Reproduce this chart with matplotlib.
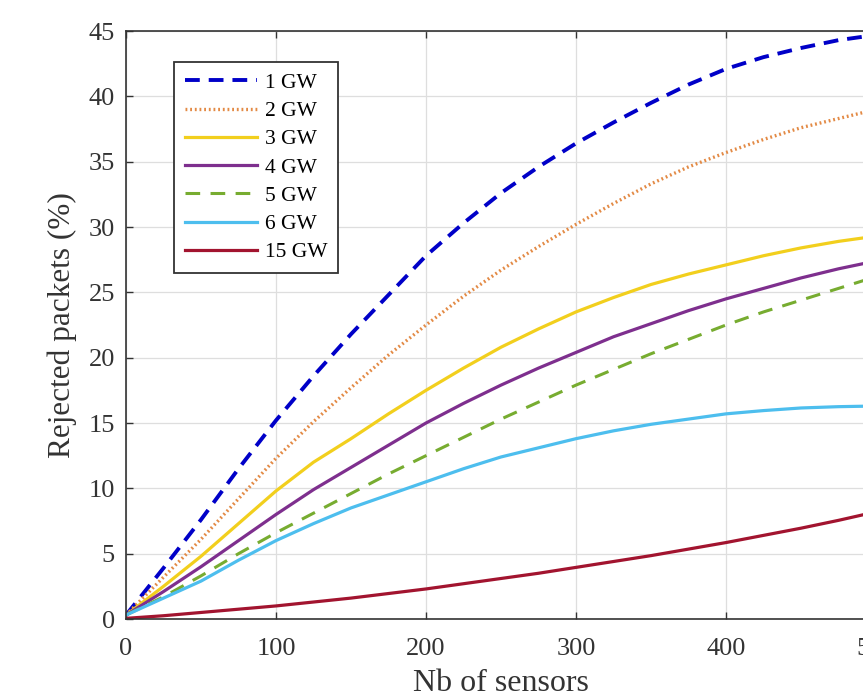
import numpy as np
import matplotlib
matplotlib.use('Agg')
import matplotlib.pyplot as plt

plt.rcParams['font.family'] = ['Liberation Serif', 'DejaVu Serif']

# number of sensors
nb = [0, 25, 50, 75, 100, 125, 150, 175, 200, 225, 250, 275, 300,
      325, 350, 375, 400, 425, 450, 475, 500]

# rejected packets (%) per gateway count
gw1 = [0.3, 3.9, 7.6, 11.5, 15.2, 18.6, 21.8, 24.8, 27.8, 30.3, 32.6, 34.6, 36.4,
       38.0, 39.5, 40.9, 42.1, 43.0, 43.7, 44.3, 44.7]
gw2 = [0.3, 3.2, 6.1, 9.2, 12.3, 15.1, 17.7, 20.2, 22.5, 24.7, 26.7, 28.5, 30.2,
       31.8, 33.3, 34.6, 35.7, 36.7, 37.6, 38.3, 39.0]
gw3 = [0.3, 2.5, 4.8, 7.3, 9.8, 12.0, 13.8, 15.7, 17.5, 19.2, 20.8, 22.2, 23.5,
       24.6, 25.6, 26.4, 27.1, 27.8, 28.4, 28.9, 29.3]
gw4 = [0.3, 2.1, 4.0, 6.0, 8.0, 9.9, 11.6, 13.3, 15.0, 16.5, 17.9, 19.2, 20.4,
       21.6, 22.6, 23.6, 24.5, 25.3, 26.1, 26.8, 27.4]
gw5 = [0.3, 1.7, 3.3, 5.0, 6.6, 8.1, 9.6, 11.1, 12.5, 13.9, 15.3, 16.6, 17.9,
       19.1, 20.3, 21.4, 22.5, 23.5, 24.4, 25.3, 26.2]
gw6 = [0.3, 1.6, 2.9, 4.5, 6.0, 7.3, 8.5, 9.5, 10.5, 11.5, 12.4, 13.1, 13.8,
       14.4, 14.9, 15.3, 15.7, 15.95, 16.15, 16.25, 16.3]
gw15 = [0.05, 0.25, 0.5, 0.75, 1.0, 1.3, 1.6, 1.95, 2.3, 2.7, 3.1, 3.5, 3.95,
        4.4, 4.85, 5.35, 5.85, 6.4, 6.95, 7.55, 8.2]

labels = ['1 GW', '2 GW', '3 GW', '4 GW', '5 GW', '6 GW', '15 GW']

fig = plt.figure(figsize=(8.63, 6.92), dpi=100)
# the original picture is cropped on the right, so the axes run past the edge
ax = fig.add_axes([126/863, 73/692, 750/863, 588/692])

ax.plot(nb, gw1, color='#0000C8', ls=(0, (3.8, 2.3)), lw=2.8, label=labels[0])
ax.plot(nb, gw2, color='#E38A45', ls=(0, (0.55, 0.85)), lw=2.4, label=labels[1])
ax.plot(nb, gw3, color='#F2CF1D', ls='-', lw=2.3, label=labels[2])
ax.plot(nb, gw4, color='#7E2F8E', ls='-', lw=2.3, label=labels[3])
ax.plot(nb, gw5, color='#77AC30', ls=(0, (4.8, 3.4)), lw=2.2, label=labels[4])
ax.plot(nb, gw6, color='#4DBEEE', ls='-', lw=2.3, label=labels[5])
ax.plot(nb, gw15, color='#A2142F', ls='-', lw=2.3, label=labels[6])

ax.set_xlim(0, 500)
ax.set_ylim(0, 45)
ax.set_xticks([0, 100, 200, 300, 400, 500])
ax.set_yticks(np.arange(0, 46, 5))
ax.grid(True, color='#dedede', lw=0.9)
ax.set_axisbelow(True)
ax.tick_params(direction='in', top=True, right=True, labelsize=19, length=5,
               width=1, colors='#333333', labelcolor='#333333')
ax.tick_params(axis='x', pad=14)
ax.tick_params(axis='y', pad=8)
for s in ax.spines.values():
    s.set_color('#333333')
    s.set_linewidth(1.2)

ax.set_xlabel('Nb of sensors', fontsize=23, color='#333333', labelpad=6)
ax.set_ylabel('Rejected packets (%)', fontsize=22.5, color='#333333', labelpad=8)

leg = ax.legend(loc='upper left', bbox_to_anchor=(0.064, 0.947), borderaxespad=0,
                fontsize=15.5, handlelength=3.35, handletextpad=0.37,
                labelspacing=0.38, fancybox=False, framealpha=1,
                edgecolor='#333333', borderpad=0.5)
leg.get_frame().set_linewidth(1.3)

fig.savefig('out.png', dpi=100)
